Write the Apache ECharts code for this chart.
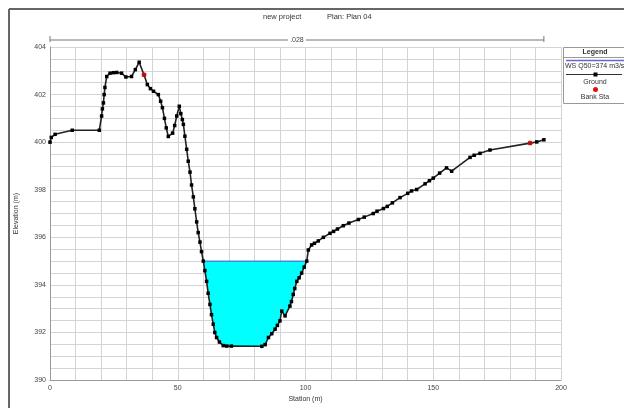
<!DOCTYPE html>
<html>
<head>
<meta charset="utf-8">
<script src="https://cdn.jsdelivr.net/npm/echarts@6/dist/echarts.min.js"></script>
<style>
html,body{margin:0;padding:0;background:#fff;}
#main{width:624px;height:408px;}
</style>
</head>
<body>
<div id="main"></div>
<script>
// ground profile (station m, elevation m)
var groundSta = [0, 0.5, 2, 8.7, 19.3, 20.2, 20.5, 20.9, 21.2, 21.5, 22.2, 23.5, 24.8, 26.1, 28, 29.7, 31.9, 33.4, 34.9, 36.8, 38.1, 39.3, 40.5, 42.4, 43.3, 44.0, 44.8, 45.5, 46.3, 48, 48.8, 49.6, 50.6, 51.2, 51.8, 52.2, 52.8, 53.5, 54.1, 54.8, 55.4, 56.1, 56.7, 57.4, 58.0, 58.7, 59.3, 60.0, 60.6, 61.3, 61.9, 62.6, 63.2, 63.9, 64.5, 65.2, 66.3, 67.8, 69.2, 71, 82.9, 84.2, 85.5, 86.8, 88.1, 89, 90, 90.7, 92, 93.9, 94.5, 95.2, 95.8, 96.6, 97.5, 98.5, 99.5, 100.5, 101.1, 102.4, 103.5, 105, 107, 109.6, 111, 112.5, 114.8, 117, 120.7, 123, 126.5, 128, 130.5, 132, 134, 137, 140, 141.5, 143.5, 146.8, 148.5, 150, 152.5, 155.2, 157.2, 164.4, 166, 168.3, 172.2, 187.9, 190.5, 193.3];
var groundElev = [400.0, 400.2, 400.33, 400.5, 400.5, 401.1, 401.4, 401.65, 402.0, 402.3, 402.76, 402.9, 402.92, 402.93, 402.9, 402.74, 402.76, 403.05, 403.36, 402.83, 402.42, 402.25, 402.14, 402.0, 401.72, 401.45, 401.0, 400.6, 400.24, 400.38, 400.7, 401.1, 401.51, 401.2, 400.95, 400.75, 400.25, 399.7, 399.2, 398.74, 398.2, 397.7, 397.2, 396.65, 396.2, 395.8, 395.4, 395.0, 394.6, 394.15, 393.65, 393.18, 392.75, 392.35, 392.0, 391.79, 391.6, 391.45, 391.43, 391.43, 391.42, 391.49, 391.79, 391.95, 392.14, 392.3, 392.49, 392.9, 392.7, 393.11, 393.3, 393.6, 393.85, 394.15, 394.3, 394.5, 394.75, 395.0, 395.47, 395.68, 395.75, 395.85, 396.0, 396.17, 396.25, 396.35, 396.49, 396.6, 396.75, 396.85, 397.0, 397.1, 397.21, 397.3, 397.45, 397.67, 397.85, 397.95, 398.01, 398.25, 398.38, 398.49, 398.7, 398.92, 398.78, 399.36, 399.45, 399.53, 399.67, 399.96, 400.01, 400.1];
// bank stations
var bankSta = [36.8, 187.9];
var bankElev = [402.83, 399.96];
// water surface
var wsName = 'WS Q50=374 m3/s';
var wsElev = 395.0;
var wsLeft = 60.0;
var wsRight = 100.5;
// manning n
var nSta = [0, 193.3];
var nLabel = '.028';

var myChart = echarts.init(document.getElementById('main'));

var ground = groundSta.map(function (s, i) { return [s, groundElev[i]]; });
var bank = bankSta.map(function (s, i) { return [s, bankElev[i]]; });

// polygon of the wetted area
var wsPoly = [[wsLeft, wsElev]];
ground.forEach(function (p) {
	if (p[0] > wsLeft && p[0] < wsRight) wsPoly.push(p);
});
wsPoly.push([wsRight, wsElev]);

var font = 'Liberation Sans, Arial, sans-serif';
var gridColor = '#d4d4d4';

var option = {
	backgroundColor: '#fff',
	animation: false,
	textStyle: {fontFamily: font},
	grid: {left: 50, right: 63, top: 47, bottom: 25},
	xAxis: {
		type: 'value', min: 0, max: 200, interval: 50,
		name: 'Station (m)', nameLocation: 'middle', nameGap: 14,
		nameTextStyle: {fontSize: 7, color: '#333'},
		axisLine: {lineStyle: {color: '#999'}},
		axisTick: {show: false},
		axisLabel: {fontSize: 7, color: '#444', margin: 4},
		splitLine: {lineStyle: {color: gridColor}},
		minorTick: {show: false, splitNumber: 5},
		minorSplitLine: {show: true, lineStyle: {color: gridColor}}
	},
	yAxis: {
		type: 'value', min: 390, max: 404, interval: 2,
		name: 'Elevation (m)', nameLocation: 'middle', nameGap: 30,
		nameTextStyle: {fontSize: 7, color: '#333'},
		axisLine: {show: true, lineStyle: {color: '#999'}},
		axisTick: {show: false},
		axisLabel: {fontSize: 7, color: '#444', margin: 4},
		splitLine: {lineStyle: {color: gridColor}},
		minorTick: {show: false, splitNumber: 4},
		minorSplitLine: {show: true, lineStyle: {color: gridColor}}
	},
	series: [
		{
			name: wsName,
			type: 'custom',
			z: 2,
			data: [[wsLeft, wsElev]],
			renderItem: function (params, api) {
				var pts = wsPoly.map(function (p) { return api.coord(p); });
				var a = api.coord([wsLeft, wsElev]);
				var b = api.coord([wsRight, wsElev]);
				return {type: 'group', children: [
					{type: 'polygon', shape: {points: pts}, style: {fill: '#00ffff', stroke: null}},
					{type: 'line', shape: {x1: a[0], y1: a[1], x2: b[0], y2: b[1]}, style: {stroke: '#3355cc', lineWidth: 1}}
				]};
			}
		},
		{
			name: 'manning',
			type: 'custom',
			clip: false,
			z: 3,
			data: [nSta],
			renderItem: function (params, api) {
				var a = api.coord([api.value(0), 404]);
				var b = api.coord([api.value(1), 404]);
				var y = a[1] - 7;
				var mid = (a[0] + b[0]) / 2;
				var st = {stroke: '#777', lineWidth: 1};
				return {type: 'group', children: [
					{type: 'line', shape: {x1: a[0], y1: y, x2: b[0], y2: y}, style: st},
					{type: 'line', shape: {x1: a[0], y1: y - 4, x2: a[0], y2: y + 2}, style: st},
					{type: 'line', shape: {x1: b[0], y1: y - 4, x2: b[0], y2: y + 2}, style: st},
					{type: 'rect', shape: {x: mid - 9, y: y - 4, width: 18, height: 8}, style: {fill: '#fff'}},
					{type: 'text', style: {text: nLabel, x: mid, y: y, align: 'center', verticalAlign: 'middle', fontSize: 7, fill: '#444', fontFamily: font}}
				]};
			}
		},
		{
			name: 'Ground',
			type: 'line',
			z: 4,
			data: ground,
			symbol: 'rect',
			symbolSize: 3.5,
			itemStyle: {color: '#000'},
			lineStyle: {color: '#222', width: 1.6}
		},
		{
			name: 'Bank Sta',
			type: 'scatter',
			z: 5,
			data: bank,
			symbol: 'circle',
			symbolSize: 5,
			itemStyle: {color: '#e01010'}
		}
	],
	graphic: [
		// outer frame
		{type: 'line', shape: {x1: 9, y1: 9, x2: 624, y2: 9}, style: {stroke: '#666', lineWidth: 2}},
		{type: 'line', shape: {x1: 9, y1: 9, x2: 9, y2: 408}, style: {stroke: '#666', lineWidth: 2}},
		// title
		{type: 'text', left: 263, top: 13, style: {text: 'new project', fontSize: 7.5, fill: '#333', fontFamily: font}},
		{type: 'text', left: 327, top: 13, style: {text: 'Plan: Plan 04', fontSize: 7.5, fill: '#333', fontFamily: font}},
		// legend box
		{type: 'rect', shape: {x: 563.5, y: 47.5, width: 70, height: 56}, style: {fill: '#fff', stroke: '#999', lineWidth: 1}},
		{type: 'text', x: 595, y: 52, style: {text: 'Legend', fontSize: 7, fontWeight: 'bold', fill: '#333', align: 'center', verticalAlign: 'middle', fontFamily: font}},
		{type: 'line', shape: {x1: 564, y1: 57.5, x2: 624, y2: 57.5}, style: {stroke: '#999', lineWidth: 1}},
		{type: 'line', shape: {x1: 566, y1: 60.5, x2: 624, y2: 60.5}, style: {stroke: '#6666cc', lineWidth: 1.5}},
		{type: 'text', x: 565, y: 66, style: {text: wsName, fontSize: 7, fill: '#333', verticalAlign: 'middle', fontFamily: font}},
		{type: 'line', shape: {x1: 566, y1: 74.5, x2: 622, y2: 74.5}, style: {stroke: '#333', lineWidth: 1}},
		{type: 'rect', shape: {x: 593.5, y: 72.5, width: 4, height: 4}, style: {fill: '#000'}},
		{type: 'text', x: 595, y: 82, style: {text: 'Ground', fontSize: 7, fill: '#333', align: 'center', verticalAlign: 'middle', fontFamily: font}},
		{type: 'circle', shape: {cx: 595.5, cy: 89.5, r: 2.5}, style: {fill: '#e01010'}},
		{type: 'text', x: 595, y: 97, style: {text: 'Bank Sta', fontSize: 7, fill: '#333', align: 'center', verticalAlign: 'middle', fontFamily: font}}
	]
};

myChart.setOption(option);
</script>
</body>
</html>
